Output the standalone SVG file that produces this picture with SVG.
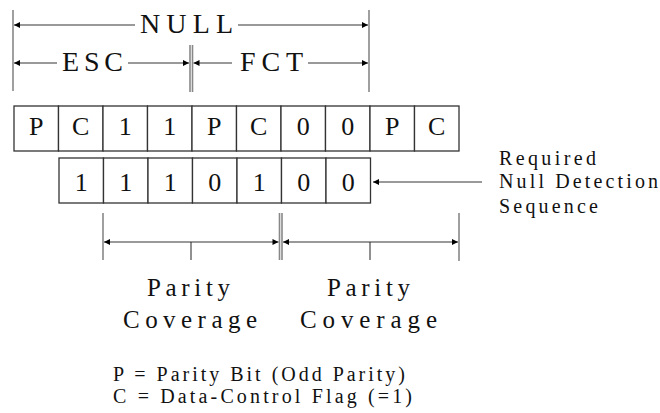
<svg xmlns="http://www.w3.org/2000/svg" width="660" height="413" viewBox="0 0 660 413">
<style>
text{font-family:"Liberation Serif","Times New Roman",serif;fill:#111;}
.cell{fill:#fff;stroke:#333;stroke-width:1.3;}
.ct{font-size:26px;text-anchor:middle;}
.dim{stroke:#777;stroke-width:1.4;fill:none;}
.vl{stroke:#888;stroke-width:1.6;}
.tk{stroke:#222;stroke-width:1;}
.lbl{font-size:28px;}
.pc{font-size:25px;}
.sm{font-size:20px;}
</style>
<defs>
<marker id="ah" viewBox="0 0 10 10" refX="10" refY="5" markerWidth="9" markerHeight="6" markerUnits="userSpaceOnUse" orient="auto-start-reverse">
<path d="M0,0 L10,5 L0,10 z" fill="#000"/>
</marker>
</defs>
<rect width="660" height="413" fill="#fff"/>

<g id="row1">
<g id="r1c0"><rect class="cell" x="14" y="106" width="44.5" height="45"/><text class="ct" x="36.2" y="135">P</text></g>
<g id="r1c1"><rect class="cell" x="58.5" y="106" width="44.5" height="45"/><text class="ct" x="80.7" y="135">C</text></g>
<g id="r1c2"><rect class="cell" x="103" y="106" width="44.5" height="45"/><text class="ct" x="125.2" y="135">1</text></g>
<g id="r1c3"><rect class="cell" x="147.5" y="106" width="44.5" height="45"/><text class="ct" x="169.7" y="135">1</text></g>
<g id="r1c4"><rect class="cell" x="192" y="106" width="44.5" height="45"/><text class="ct" x="214.2" y="135">P</text></g>
<g id="r1c5"><rect class="cell" x="236.5" y="106" width="44.5" height="45"/><text class="ct" x="258.7" y="135">C</text></g>
<g id="r1c6"><rect class="cell" x="281" y="106" width="44.5" height="45"/><text class="ct" x="303.2" y="135">0</text></g>
<g id="r1c7"><rect class="cell" x="325.5" y="106" width="44.5" height="45"/><text class="ct" x="347.7" y="135">0</text></g>
<g id="r1c8"><rect class="cell" x="370" y="106" width="44.5" height="45"/><text class="ct" x="392.2" y="135">P</text></g>
<g id="r1c9"><rect class="cell" x="414.5" y="106" width="44.5" height="45"/><text class="ct" x="436.7" y="135">C</text></g>
</g>

<g id="row2">
<g id="r2c0"><rect class="cell" x="59" y="158" width="44.5" height="45"/><text class="ct" x="81.2" y="191">1</text></g>
<g id="r2c1"><rect class="cell" x="103.5" y="158" width="44.5" height="45"/><text class="ct" x="125.7" y="191">1</text></g>
<g id="r2c2"><rect class="cell" x="148" y="158" width="44.5" height="45"/><text class="ct" x="170.2" y="191">1</text></g>
<g id="r2c3"><rect class="cell" x="192.5" y="158" width="44.5" height="45"/><text class="ct" x="214.7" y="191">0</text></g>
<g id="r2c4"><rect class="cell" x="237" y="158" width="44.5" height="45"/><text class="ct" x="259.2" y="191">1</text></g>
<g id="r2c5"><rect class="cell" x="281.5" y="158" width="44.5" height="45"/><text class="ct" x="303.7" y="191">0</text></g>
<g id="r2c6"><rect class="cell" x="326" y="158" width="44.5" height="45"/><text class="ct" x="348.2" y="191">0</text></g>
</g>

<g id="connectors">
<line class="vl" x1="13" y1="10" x2="13" y2="91"/>
<line class="vl" x1="369" y1="10" x2="369" y2="92"/>
<line class="vl" x1="190" y1="45" x2="190" y2="92"/>
<line class="vl" x1="192.5" y1="45" x2="192.5" y2="92"/>
<line class="dim" x1="135" y1="25" x2="14" y2="25" marker-end="url(#ah)"/>
<line class="dim" x1="238" y1="25" x2="368" y2="25" marker-end="url(#ah)"/>
<line class="dim" x1="57" y1="63" x2="14" y2="63" marker-end="url(#ah)"/>
<line class="dim" x1="128" y1="63" x2="189" y2="63" marker-end="url(#ah)"/>
<line class="dim" x1="232" y1="63" x2="193.5" y2="63" marker-end="url(#ah)"/>
<line class="dim" x1="308" y1="63" x2="368" y2="63" marker-end="url(#ah)"/>
<line class="dim" x1="482" y1="182" x2="373" y2="182" marker-end="url(#ah)"/>
<line class="vl" x1="103" y1="213" x2="103" y2="260"/>
<line class="vl" x1="279.5" y1="213" x2="279.5" y2="260"/>
<line class="vl" x1="282" y1="213" x2="282" y2="260"/>
<line class="vl" x1="459" y1="213" x2="459" y2="261"/>
<line class="dim" x1="191" y1="242" x2="104" y2="242" marker-end="url(#ah)"/>
<line class="dim" x1="191" y1="242" x2="278.5" y2="242" marker-end="url(#ah)"/>
<line class="dim" x1="370" y1="242" x2="283" y2="242" marker-end="url(#ah)"/>
<line class="dim" x1="370" y1="242" x2="458" y2="242" marker-end="url(#ah)"/>
<line class="tk" x1="191" y1="242" x2="191" y2="260"/>
<line class="tk" x1="370" y1="242" x2="370" y2="260"/>
</g>

<g id="labels">
<text class="lbl" x="140" y="33" textLength="93" lengthAdjust="spacing">NULL</text>
<text class="lbl" x="62" y="71" textLength="61" lengthAdjust="spacing">ESC</text>
<text class="lbl" x="240" y="71" textLength="63" lengthAdjust="spacing">FCT</text>
<text class="sm" x="499" y="165" textLength="97" lengthAdjust="spacing">Required</text>
<text class="sm" x="499" y="188" textLength="159" lengthAdjust="spacing">Null Detection</text>
<text class="sm" x="499" y="213" textLength="99" lengthAdjust="spacing">Sequence</text>
<text class="pc" x="147" y="296" textLength="83" lengthAdjust="spacing">Parity</text>
<text class="pc" x="123" y="328" textLength="134" lengthAdjust="spacing">Coverage</text>
<text class="pc" x="327" y="296" textLength="83" lengthAdjust="spacing">Parity</text>
<text class="pc" x="300" y="328" textLength="137" lengthAdjust="spacing">Coverage</text>
<text class="sm" x="113" y="381" textLength="292" lengthAdjust="spacing">P = Parity Bit (Odd Parity)</text>
<text class="sm" x="113" y="403" textLength="299" lengthAdjust="spacing">C = Data-Control Flag (=1)</text>
</g>
</svg>
